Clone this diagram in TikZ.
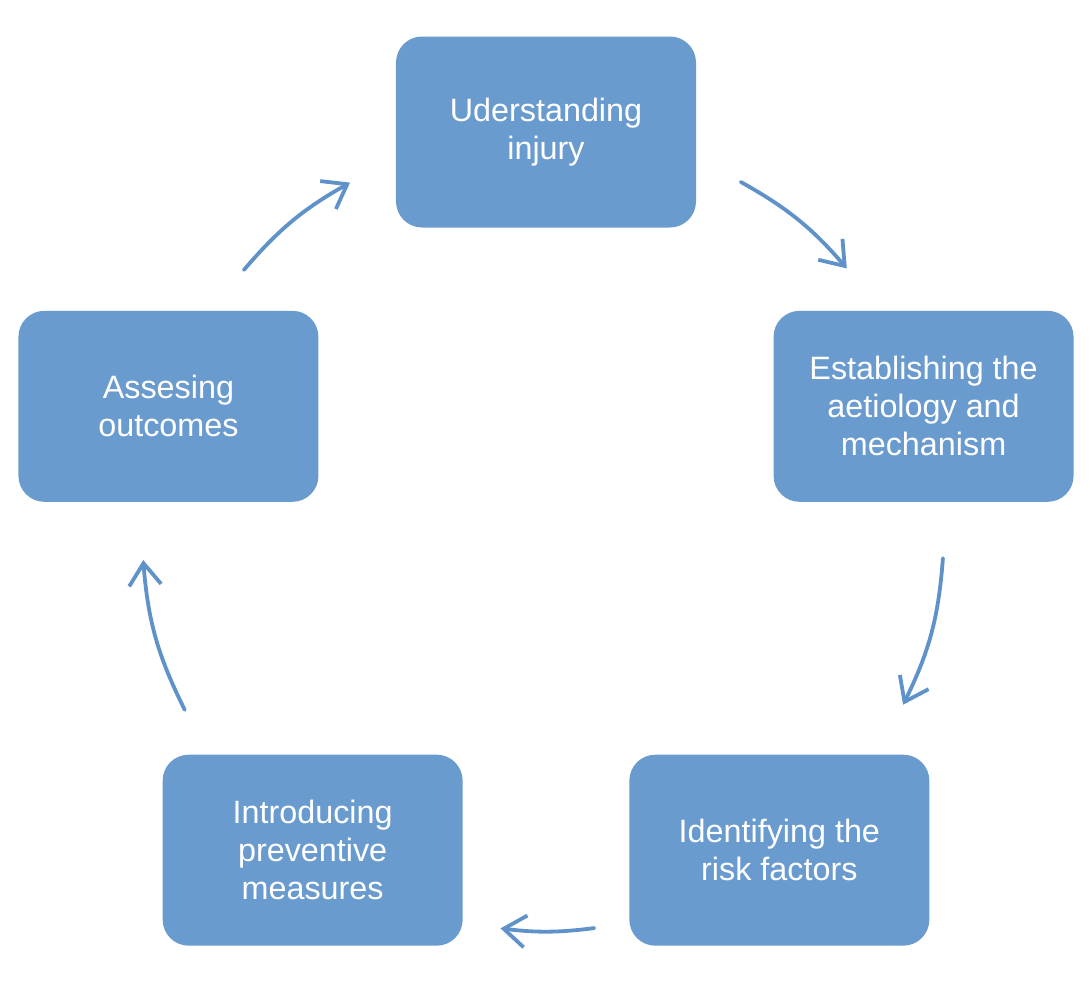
\documentclass[tikz,border=0pt]{standalone}
\usepackage{fontspec}
\setmainfont{Liberation Sans}
\usepackage{xcolor}
\usetikzlibrary{arrows.meta}
\definecolor{boxblue}{RGB}{106,155,207}
\definecolor{arrowblue}{RGB}{96,146,202}

\begin{document}
\begin{tikzpicture}[
    stage/.style={draw=none, rectangle, rounded corners=0.65cm, minimum height=4.775cm,
      minimum width=7.5cm, align=center, fill=boxblue, text=white,
      font=\fontsize{23}{27}\selectfont},
    flow/.style={arrowblue, line width=2.7pt, line cap=round,
      -{Straight Barb[length=5.5mm, width=8mm, line width=2.7pt]}}
]
\useasboundingbox (-13.65,-11.325) rectangle (13.6,13.225);

\node[stage] (injury) at (90:9.925) {Uderstanding\\injury};
\node[stage] (aetiology) at (18:9.925) {Establishing the\\aetiology and\\mechanism};
\node[stage] (risk) at (-54:9.925) {Identifying the\\risk factors};
\node[stage] (prevent) at (-126:9.925) {Introducing\\preventive\\measures};
\node[stage] (outcome) at (162:9.925) {Assesing\\outcomes};

% arc end points round the cycle
\coordinate (a1) at (60.7:9.95);  \coordinate (b1) at (40.9:9.95);
\coordinate (a2) at (-4.2:9.95);  \coordinate (b2) at (-26.2:9.95);
\coordinate (a3) at (-83.1:10.05); \coordinate (b3) at (-96.5:10.05);
\coordinate (a4) at (206.6:10.1); \coordinate (b4) at (184.4:10.1);
\coordinate (a5) at (139.4:9.95); \coordinate (b5) at (119.5:9.95);

\draw[flow] (a1) to[bend left=10] (b1);
\draw[flow] (a2) to[bend left=11] (b2);
\draw[flow] (a3) to[bend left=7] (b3);
\draw[flow] (a4) to[bend left=11] (b4);
\draw[flow] (a5) to[bend left=10] (b5);
\end{tikzpicture}
\end{document}
